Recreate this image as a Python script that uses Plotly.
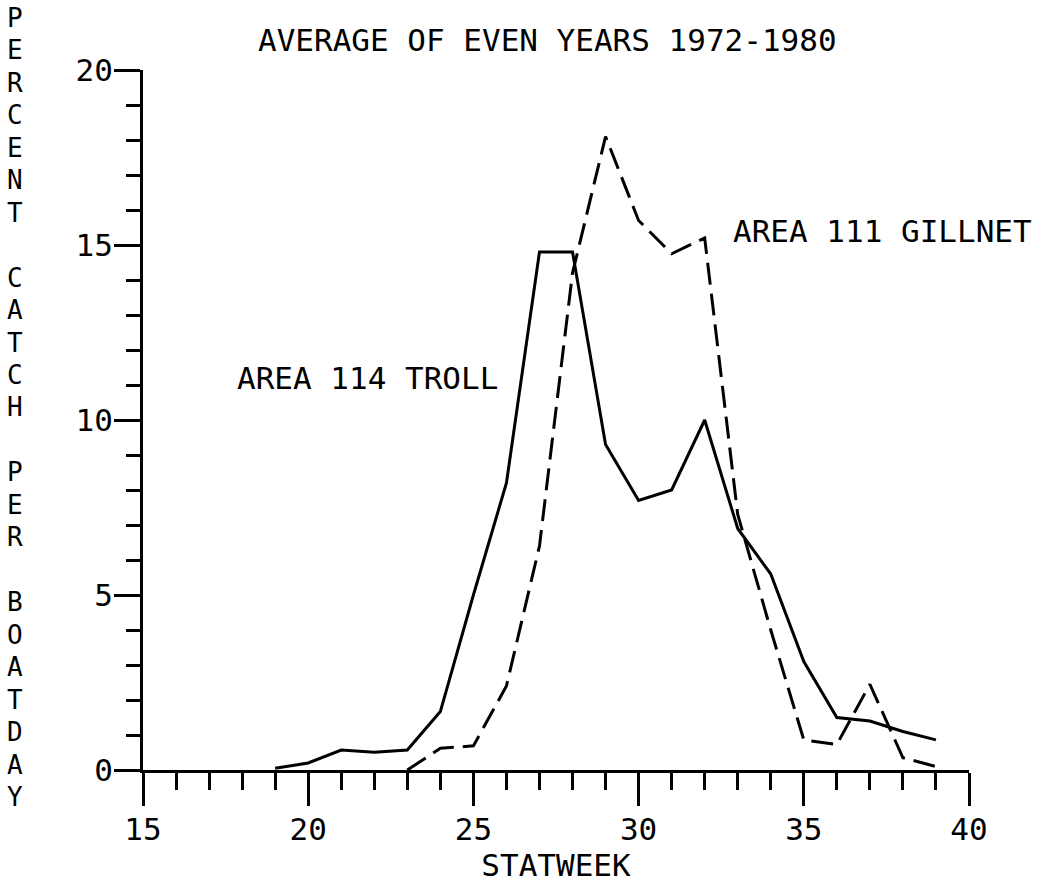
import plotly.graph_objects as go

# Weekly percent catch per boatday, averaged over the even years 1972-1980
troll_weeks = [19, 20, 21, 22, 23, 24, 25, 26, 27, 28, 29, 30, 31, 32, 33, 34, 35, 36, 37, 38, 39]
troll_pct = [0.05, 0.2, 0.57, 0.51, 0.57, 1.67, 5.0, 8.2, 14.8, 14.8, 9.3, 7.7, 8.0, 10.0, 6.9, 5.6, 3.1, 1.5, 1.4, 1.1, 0.86]

gillnet_weeks = [23, 24, 25, 26, 27, 28, 29, 30, 31, 32, 33, 34, 35, 36, 37, 38, 39]
gillnet_pct = [0.0, 0.62, 0.69, 2.4, 6.4, 14.2, 18.1, 15.7, 14.75, 15.2, 7.3, 4.0, 0.86, 0.73, 2.45, 0.35, 0.1]

title_text = "AVERAGE OF EVEN YEARS 1972-1980"
troll_label = "AREA 114 TROLL"
gillnet_label = "AREA 111 GILLNET"
x_title = "STATWEEK"
y_title = "PERCENT CATCH PER BOATDAY"

x_ticks = [15, 20, 25, 30, 35, 40]
y_ticks = [0, 5, 10, 15, 20]

FONT = "DejaVu Sans Mono"
INK = "#000000"
FS = 31
FS_STACK = 26

fig = go.Figure()
fig.add_trace(go.Scatter(
    x=troll_weeks, y=troll_pct, mode="lines",
    line=dict(color=INK, width=3),
    name=troll_label, showlegend=False,
))
fig.add_trace(go.Scatter(
    x=gillnet_weeks, y=gillnet_pct, mode="lines",
    line=dict(color=INK, width=3, dash="22px,9px"),
    name=gillnet_label, showlegend=False,
))

annotations = [
    dict(text=title_text, xref="paper", yref="paper", x=0.49, y=1.043,
         xanchor="center", yanchor="middle", showarrow=False),
    dict(text=troll_label, xref="x", yref="y", x=25.8, y=11.2,
         xanchor="right", yanchor="middle", showarrow=False),
    dict(text=gillnet_label, xref="x", yref="y", x=32.8, y=15.4,
         xanchor="left", yanchor="middle", showarrow=False),
]

# vertical axis title: one letter per row, spaces leave an empty row
rows = list(y_title)
top_px, bottom_px = 18, 797
step = (bottom_px - top_px) / (len(rows) - 1)
for i, ch in enumerate(rows):
    if ch == " ":
        continue
    py = top_px + i * step
    annotations.append(dict(
        text=ch, xref="paper", yref="paper",
        x=(15 - 143) / 826, y=(770 - py) / 700,
        xanchor="center", yanchor="middle", showarrow=False,
        font=dict(family=FONT, size=FS_STACK, color=INK),
        borderpad=0,
    ))

fig.update_layout(
    width=1037, height=888,
    margin=dict(l=143, r=68, t=70, b=118),
    paper_bgcolor="white", plot_bgcolor="white",
    font=dict(family=FONT, size=FS, color=INK),
    annotations=annotations,
    showlegend=False,
)

fig.update_xaxes(
    range=[15, 40], showgrid=False, zeroline=False,
    showline=True, linecolor=INK, linewidth=3,
    tickmode="array", tickvals=x_ticks, ticktext=[str(v) for v in x_ticks],
    ticks="outside", ticklen=33, tickwidth=3, tickcolor=INK,
    ticklabelstandoff=-3,
    minor=dict(dtick=1, tick0=15, ticks="outside", ticklen=17, tickwidth=3, tickcolor=INK, showgrid=False),
    tickfont=dict(family=FONT, size=FS, color=INK),
    title=dict(text=x_title, font=dict(family=FONT, size=FS, color=INK), standoff=6),
)
fig.update_yaxes(
    range=[0, 20], showgrid=False, zeroline=False,
    showline=True, linecolor=INK, linewidth=3,
    tickmode="array", tickvals=y_ticks, ticktext=[str(v) for v in y_ticks],
    ticks="outside", ticklen=26, tickwidth=3, tickcolor=INK,
    ticklabelstandoff=-5,
    minor=dict(dtick=1, tick0=0, ticks="outside", ticklen=14, tickwidth=3, tickcolor=INK, showgrid=False),
    tickfont=dict(family=FONT, size=FS, color=INK),
)

fig.write_html("out.html")
